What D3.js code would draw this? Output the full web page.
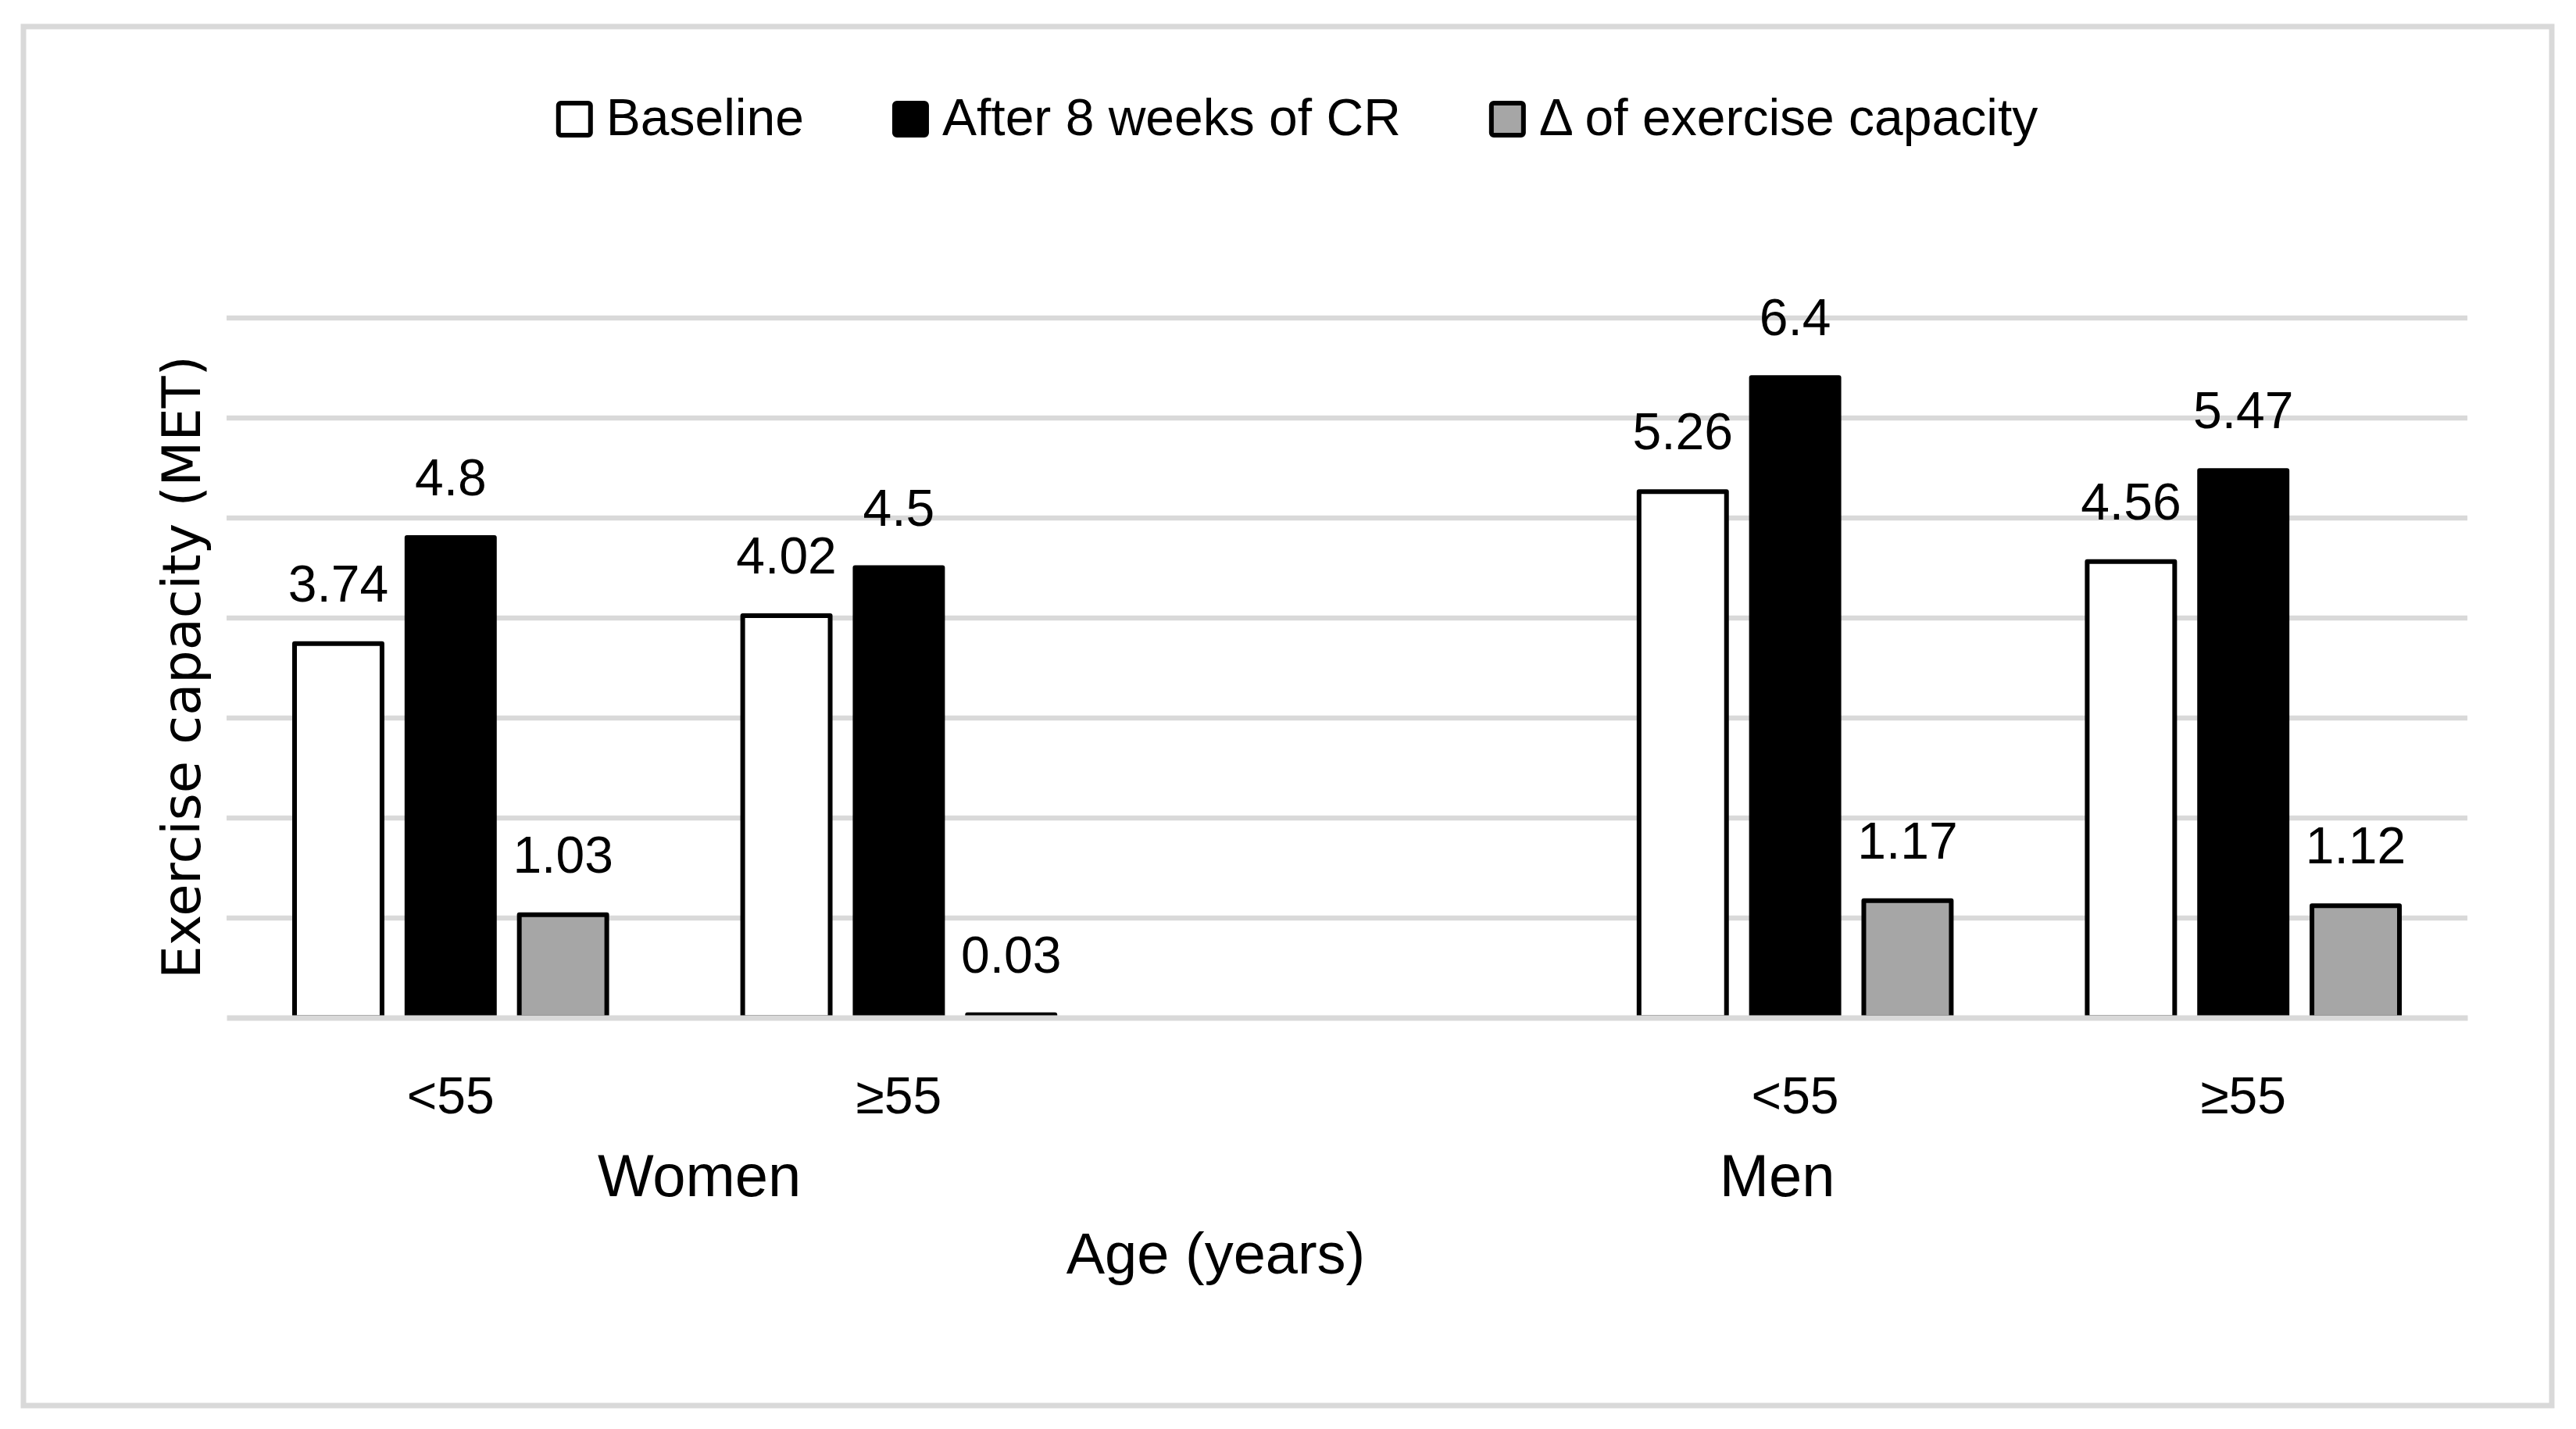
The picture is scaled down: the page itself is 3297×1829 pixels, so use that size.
<!DOCTYPE html>
<html>
<head>
<meta charset="utf-8">
<script src="https://cdn.jsdelivr.net/npm/d3@7"></script>
<style>
  body { margin: 0; background: #fff; }
  svg { display: block; }
  text { font-family: "Liberation Sans", Arial, sans-serif; fill: #000; }
</style>
</head>
<body>
<svg width="3297" height="1829"></svg>
<script>
// data
const categories = ['Women <55', 'Women ≥55', 'Men <55', 'Men ≥55'];
const ageLabels = ['<55', '≥55', '<55', '≥55'];
const groups = ['Women', 'Men'];
const seriesNames = ['Baseline', 'After 8 weeks of CR', 'Δ of exercise capacity'];
const baseline = [3.74, 4.02, 5.26, 4.56];
const after8 = [4.8, 4.5, 6.4, 5.47];
const delta = [1.03, 0.03, 1.17, 1.12];
const yTicks = [0, 1, 2, 3, 4, 5, 6, 7];

const fills = ['#ffffff', '#000000', '#a6a6a6'];
const seriesValues = [baseline, after8, delta];

const svg = d3.select('svg');

// outer chart border
svg.append('rect')
  .attr('x', 30).attr('y', 34)
  .attr('width', 3236).attr('height', 1765)
  .attr('fill', 'none')
  .attr('stroke', '#d9d9d9')
  .attr('stroke-width', 7);

// an empty slot sits between women and men
const slots = [categories[0], categories[1], 'gap', categories[2], categories[3]];

const x0 = d3.scaleBand().domain(slots).range([290, 3158]).padding(0);
const groupPad = 84;
const x1 = d3.scaleBand()
  .domain(seriesNames)
  .range([groupPad, x0.bandwidth() - groupPad])
  .paddingInner(0.18);
const y = d3.scaleLinear().domain([0, 7]).range([1302.5, 406.5]);

// gridlines
svg.append('g')
  .attr('transform', 'translate(290,0)')
  .call(d3.axisLeft(y).tickValues(yTicks.slice(1)).tickSize(-(3158 - 290)).tickFormat(''))
  .call(g => g.select('.domain').remove())
  .call(g => g.selectAll('line').attr('stroke', '#d9d9d9').attr('stroke-width', 6.5));

const rows = categories.map((c, i) => ({
  cat: c,
  values: seriesNames.map((s, j) => ({ series: s, idx: j, value: seriesValues[j][i] }))
}));

const catG = svg.selectAll('.cat')
  .data(rows)
  .enter()
  .append('g')
  .attr('class', 'cat')
  .attr('transform', d => `translate(${x0(d.cat)},0)`);

catG.selectAll('rect')
  .data(d => d.values)
  .enter()
  .append('rect')
  .attr('x', d => x1(d.series) + 3)
  .attr('y', d => y(d.value))
  .attr('width', x1.bandwidth() - 6)
  .attr('height', d => y(0) - y(d.value))
  .attr('fill', d => fills[d.idx])
  .attr('stroke', '#000')
  .attr('stroke-width', 6)
  .attr('stroke-linejoin', 'round');

catG.selectAll('text')
  .data(d => d.values)
  .enter()
  .append('text')
  .attr('x', d => x1(d.series) + x1.bandwidth() / 2)
  .attr('y', d => y(d.value) - 54)
  .attr('text-anchor', 'middle')
  .attr('font-size', 66)
  .text(d => d.value);

// baseline axis line on top of bar bottoms
svg.append('g')
  .attr('transform', `translate(0,${y(0)})`)
  .call(d3.axisBottom(x0).tickSize(0).tickFormat(''))
  .call(g => g.select('.domain').attr('stroke', '#d9d9d9').attr('stroke-width', 7));

// age tick labels
svg.selectAll('.age')
  .data(categories)
  .enter()
  .append('text')
  .attr('class', 'age')
  .attr('x', d => x0(d) + x0.bandwidth() / 2)
  .attr('y', 1425)
  .attr('text-anchor', 'middle')
  .attr('font-size', 66)
  .text((d, i) => ageLabels[i]);

// sex group labels
const groupX = [x0(categories[1]) + 0.055 * x0.step(), x0(categories[2]) + 0.46 * x0.step()];
svg.selectAll('.grp')
  .data(groups)
  .enter()
  .append('text')
  .attr('class', 'grp')
  .attr('x', (d, i) => groupX[i])
  .attr('y', 1531)
  .attr('text-anchor', 'middle')
  .attr('font-size', 76)
  .text(d => d);

svg.append('text')
  .attr('x', 1556)
  .attr('y', 1630)
  .attr('text-anchor', 'middle')
  .attr('font-size', 74)
  .text('Age (years)');

svg.append('text')
  .attr('transform', 'translate(256,854) rotate(-90)')
  .attr('text-anchor', 'middle')
  .attr('font-size', 67)
  .style('font-family', '"DejaVu Sans", sans-serif')
  .text('Exercise capacity (MET)');

// legend
const legend = svg.append('g');
const items = legend.selectAll('g')
  .data(seriesNames)
  .enter()
  .append('g');
items.append('text')
  .attr('y', 173)
  .attr('font-size', 66)
  .text(d => d);
let cursor = 0;
items.each(function (d, i) {
  const w = d3.select(this).select('text').node().getComputedTextLength();
  d3.select(this).select('text').attr('x', cursor + 64);
  d3.select(this).insert('rect', 'text')
    .attr('x', cursor + 3)
    .attr('y', 132)
    .attr('width', 41)
    .attr('height', 41)
    .attr('rx', 3)
    .attr('fill', fills[i])
    .attr('stroke', '#000')
    .attr('stroke-width', 6);
  cursor += 64 + w + 113;
});
const legendWidth = cursor - 113;
legend.attr('transform', `translate(${1660 - legendWidth / 2},0)`);
</script>
</body>
</html>
